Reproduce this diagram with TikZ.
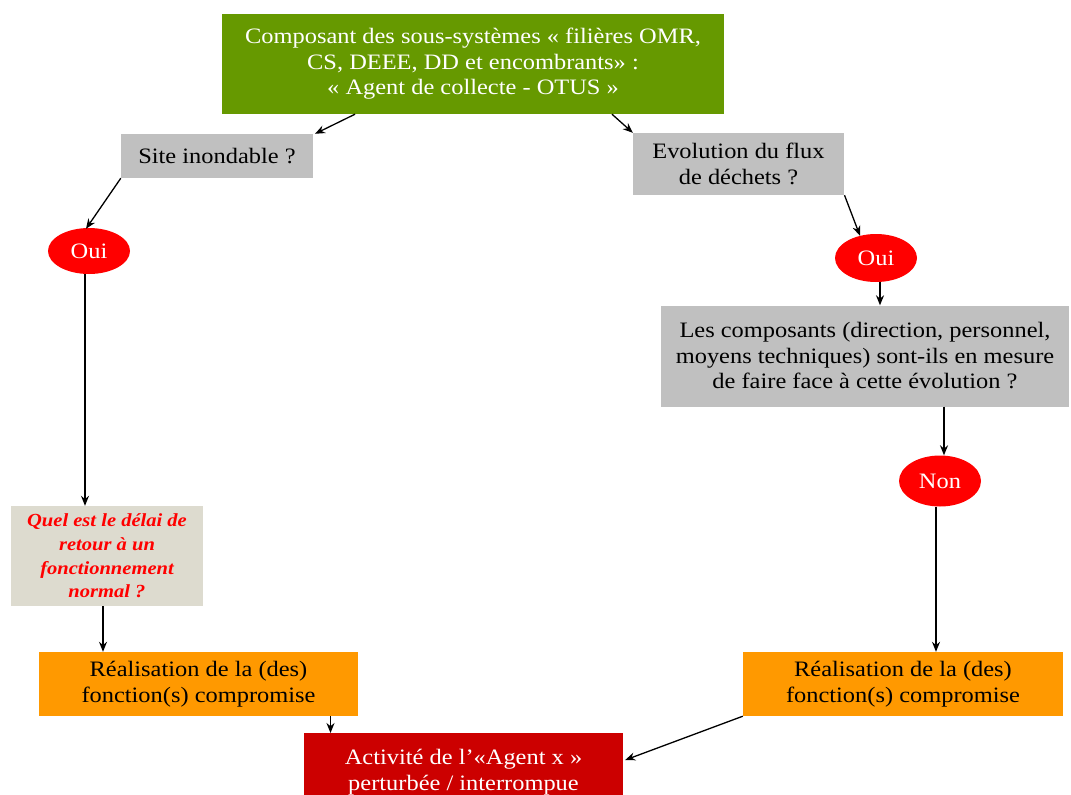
\documentclass[tikz,border=0pt]{standalone}
\usepackage{fontspec}
\setmainfont[FakeStretch=1.11]{Liberation Serif}
\usetikzlibrary{arrows.meta,shapes.geometric}
\definecolor{cgreen}{HTML}{669900}
\definecolor{cgray}{HTML}{C0C0C0}
\definecolor{cred}{HTML}{FF0000}
\definecolor{corange}{HTML}{FF9900}
\definecolor{cdark}{HTML}{CC0000}
\definecolor{cbeige}{HTML}{DDDBCF}
\tikzset{
  box/.style={rectangle, inner sep=0pt, align=center, font=\fontsize{22}{25.5}\selectfont},
  oval/.style={ellipse, fill=cred, inner sep=0pt, text=white, font=\fontsize{22}{25.5}\selectfont},
  arr/.style={-{Stealth[length=10pt,width=8pt]}, line width=1.3pt},
}
\begin{document}
\begin{tikzpicture}[x=1pt,y=-1pt]
\useasboundingbox (0,0) rectangle (1071,795);
\node[box, fill=cgreen, text=white, minimum width=502, minimum height=100] (top) at (473,64)
  {Composant des sous-systèmes « filières OMR,\\CS, DEEE, DD et encombrants» :\\« Agent de collecte - OTUS »};
\node[box, fill=cgray, minimum width=192, minimum height=44] (site) at (217,156) {Site inondable ?};
\node[box, fill=cgray, minimum width=211, minimum height=62] (evo) at (738.5,164) {Evolution du flux\\de déchets ?};
\node[oval, minimum width=82, minimum height=46] (oui1) at (89,251) {Oui};
\node[oval, minimum width=82, minimum height=48] (oui2) at (876,258) {Oui};
\node[box, fill=cgray, minimum width=408, minimum height=101] (comp) at (865,356)
  {Les composants (direction, personnel,\\moyens techniques) sont-ils en mesure\\de faire face à cette évolution ?};
\node[oval, minimum width=82, minimum height=51] (non) at (940,481) {Non};
\node[box, fill=cbeige, text=cred, minimum width=192, minimum height=100,
  font=\fontsize{18.5}{23.7}\selectfont\bfseries\itshape] (quel) at (107,556)
  {Quel est le délai de\\retour à un\\fonctionnement\\normal ?};
\node[box, fill=corange, minimum width=319, minimum height=64] (real1) at (198.5,684)
  {Réalisation de la (des)\\fonction(s) compromise};
\node[box, fill=corange, minimum width=320, minimum height=64] (real2) at (903,684)
  {Réalisation de la (des)\\fonction(s) compromise};
\node[box, fill=cdark, text=white, minimum width=319, minimum height=78, anchor=north] (act) at (463.5,733)
  {Activité de l’«Agent x »\\perturbée / interrompue};
% connectors
\draw[arr] ([xshift=-118pt]top.south) -- ([xshift=98pt]site.north);
\draw[arr] ([xshift=139pt]top.south) -- (evo.north west);
\draw[arr] (site.south west) -- ([xshift=-3pt,yshift=-1pt]oui1.north);
\draw[arr] ([xshift=106pt]evo.south) -- ([xshift=-16pt,yshift=-2pt]oui2.north);
\draw[arr] ([xshift=-4pt]oui1.south) -- ([xshift=-4pt]oui1.south |- quel.north);
\draw[arr] ([xshift=4pt]oui2.south) -- ([xshift=4pt]oui2.south |- comp.north);
\draw[arr] ([xshift=79pt]comp.south) -- ([xshift=4pt]non.north);
\draw[arr] ([xshift=-4pt]non.south) -- ([xshift=-4pt]non.south |- real2.north);
\draw[arr] ([xshift=-4pt]quel.south) -- ([xshift=-4pt]quel.south |- real1.north);
\draw[arr] ([xshift=132pt]real1.south) -- ([xshift=132pt]real1.south |- act.north);
\draw[arr] (real2.south west) -- ([xshift=2pt,yshift=-27pt]act.north east);
\end{tikzpicture}
\end{document}
